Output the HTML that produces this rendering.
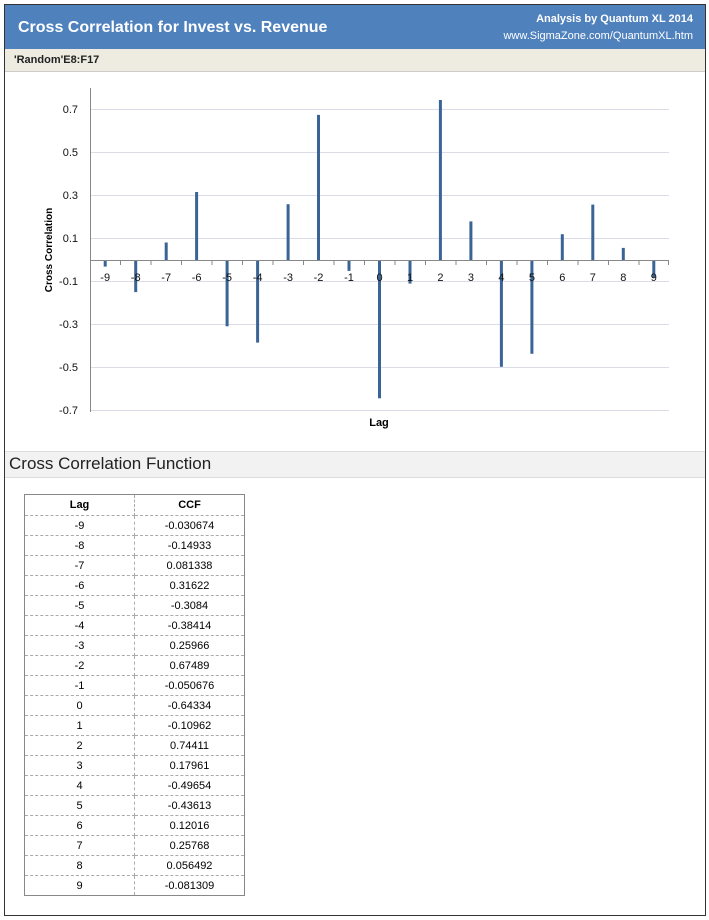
<!DOCTYPE html><html><head><style>
body{margin:0;width:709px;height:920px;background:#fff;font-family:"Liberation Sans",sans-serif;position:relative;overflow:hidden}
.frame{position:absolute;left:4px;top:4px;width:700px;height:910px;border:1px solid #333;}
.hdr{position:absolute;left:0;top:0;width:700px;height:44px;background:#4f81bd;color:#fff}
.t{position:absolute;left:13px;top:14px;font-size:16px;font-weight:bold}
.r1{position:absolute;right:12px;top:8px;font-size:11px;font-weight:bold}
.r2{position:absolute;right:12px;top:25px;font-size:11px}
.sub{position:absolute;left:0;top:44px;width:700px;height:22px;background:#eeebe0;border-bottom:1px solid #ccc;font-size:11px;font-weight:bold;color:#222}
.sub span{position:absolute;left:9px;top:5px}
.sec{position:absolute;left:0;top:446px;width:700px;height:25px;background:#f2f2f2;border-top:1px solid #ddd;border-bottom:1px solid #ddd;font-size:17px;color:#222}
.sec span{position:absolute;left:4px;top:2px}
table{position:absolute;left:19px;top:489px;border-collapse:collapse;border:1px solid #888;font-size:11px}
td{width:109px;height:19px;text-align:center;border-bottom:1px dashed #aaa;border-right:1px dashed #aaa;padding:0}
tr:first-child td{font-weight:bold;height:20px}
</style></head><body>
<div class="frame">
<div class="hdr"><div class="t">Cross Correlation for Invest vs. Revenue</div><div class="r1">Analysis by Quantum XL 2014</div><div class="r2">www.SigmaZone.com/QuantumXL.htm</div></div>
<div class="sub"><span>'Random'E8:F17</span></div>
<div class="sec"><span>Cross Correlation Function</span></div>
<table>
<tr><td>Lag</td><td>CCF</td></tr>
<tr><td>-9</td><td>-0.030674</td></tr><tr><td>-8</td><td>-0.14933</td></tr><tr><td>-7</td><td>0.081338</td></tr><tr><td>-6</td><td>0.31622</td></tr><tr><td>-5</td><td>-0.3084</td></tr><tr><td>-4</td><td>-0.38414</td></tr><tr><td>-3</td><td>0.25966</td></tr><tr><td>-2</td><td>0.67489</td></tr><tr><td>-1</td><td>-0.050676</td></tr><tr><td>0</td><td>-0.64334</td></tr><tr><td>1</td><td>-0.10962</td></tr><tr><td>2</td><td>0.74411</td></tr><tr><td>3</td><td>0.17961</td></tr><tr><td>4</td><td>-0.49654</td></tr><tr><td>5</td><td>-0.43613</td></tr><tr><td>6</td><td>0.12016</td></tr><tr><td>7</td><td>0.25768</td></tr><tr><td>8</td><td>0.056492</td></tr><tr><td>9</td><td>-0.081309</td></tr>
</table>
</div>
<svg style="position:absolute;left:0;top:0" width="709" height="450" font-family="Liberation Sans, sans-serif">
<g stroke="#dcdce8" stroke-width="1">
<line x1="90" x2="669" y1="109.5" y2="109.5"/><line x1="90" x2="669" y1="152.5" y2="152.5"/><line x1="90" x2="669" y1="195.5" y2="195.5"/><line x1="90" x2="669" y1="238.5" y2="238.5"/><line x1="90" x2="669" y1="281.5" y2="281.5"/><line x1="90" x2="669" y1="324.5" y2="324.5"/><line x1="90" x2="669" y1="367.5" y2="367.5"/><line x1="90" x2="669" y1="410.5" y2="410.5"/>
</g>
<line x1="90.5" x2="90.5" y1="88" y2="412" stroke="#888"/>
<g font-size="11" fill="#111" text-anchor="end">
<text x="78" y="113">0.7</text><text x="78" y="156">0.5</text><text x="78" y="199">0.3</text><text x="78" y="242">0.1</text><text x="78" y="285">-0.1</text><text x="78" y="328">-0.3</text><text x="78" y="371">-0.5</text><text x="78" y="414">-0.7</text>
</g>
<text transform="translate(52,250) rotate(-90)" font-size="10" font-weight="bold" text-anchor="middle">Cross Correlation</text>
<text x="379" y="426" font-size="11" font-weight="bold" text-anchor="middle">Lag</text>
<g fill="#3a6496">
<rect x="103.7" y="260" width="3" height="6.6"/><rect x="134.2" y="260" width="3" height="32.1"/><rect x="164.7" y="242.5" width="3" height="17.5"/><rect x="195.1" y="192" width="3" height="68"/><rect x="225.6" y="260" width="3" height="66.3"/><rect x="256.1" y="260" width="3" height="82.6"/><rect x="286.6" y="204.2" width="3" height="55.8"/><rect x="317" y="114.9" width="3" height="145.1"/><rect x="347.5" y="260" width="3" height="10.9"/><rect x="378" y="260" width="3" height="138.3"/><rect x="408.5" y="260" width="3" height="23.6"/><rect x="438.9" y="100" width="3" height="160"/><rect x="469.4" y="221.4" width="3" height="38.6"/><rect x="499.9" y="260" width="3" height="106.8"/><rect x="530.4" y="260" width="3" height="93.8"/><rect x="560.8" y="234.2" width="3" height="25.8"/><rect x="591.3" y="204.6" width="3" height="55.4"/><rect x="621.8" y="247.9" width="3" height="12.1"/><rect x="652.3" y="260" width="3" height="17.5"/>
</g>
<line x1="90" x2="669" y1="260.5" y2="260.5" stroke="#888"/>
<g stroke="#888">
<line x1="120.5" x2="120.5" y1="260" y2="265"/><line x1="151" x2="151" y1="260" y2="265"/><line x1="181.5" x2="181.5" y1="260" y2="265"/><line x1="212" x2="212" y1="260" y2="265"/><line x1="242.5" x2="242.5" y1="260" y2="265"/><line x1="273" x2="273" y1="260" y2="265"/><line x1="303.5" x2="303.5" y1="260" y2="265"/><line x1="334" x2="334" y1="260" y2="265"/><line x1="364.5" x2="364.5" y1="260" y2="265"/><line x1="395" x2="395" y1="260" y2="265"/><line x1="425.5" x2="425.5" y1="260" y2="265"/><line x1="456" x2="456" y1="260" y2="265"/><line x1="486.5" x2="486.5" y1="260" y2="265"/><line x1="517" x2="517" y1="260" y2="265"/><line x1="547.5" x2="547.5" y1="260" y2="265"/><line x1="578" x2="578" y1="260" y2="265"/><line x1="608.5" x2="608.5" y1="260" y2="265"/><line x1="639" x2="639" y1="260" y2="265"/><line x1="668.5" x2="668.5" y1="260" y2="265"/>
</g>
<g font-size="11" fill="#111" text-anchor="middle">
<text x="105.2" y="281">-9</text><text x="135.7" y="281">-8</text><text x="166.2" y="281">-7</text><text x="196.6" y="281">-6</text><text x="227.1" y="281">-5</text><text x="257.6" y="281">-4</text><text x="288.1" y="281">-3</text><text x="318.5" y="281">-2</text><text x="349" y="281">-1</text><text x="379.5" y="281">0</text><text x="410" y="281">1</text><text x="440.4" y="281">2</text><text x="470.9" y="281">3</text><text x="501.4" y="281">4</text><text x="531.9" y="281">5</text><text x="562.3" y="281">6</text><text x="592.8" y="281">7</text><text x="623.3" y="281">8</text><text x="653.8" y="281">9</text>
</g>
</svg>
</body></html>
